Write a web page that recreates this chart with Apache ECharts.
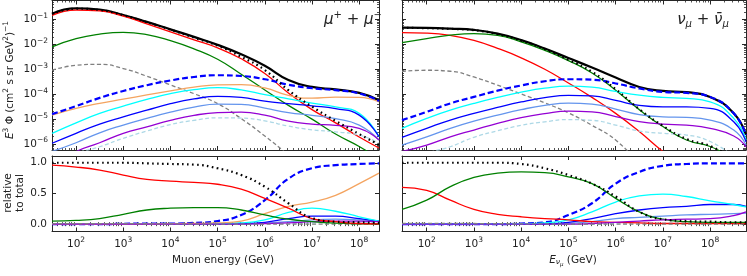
<!DOCTYPE html>
<html><head><meta charset="utf-8">
<script src="https://cdn.jsdelivr.net/npm/echarts@6/dist/echarts.min.js"></script>
<style>html,body{margin:0;padding:0;background:#fff}#c{width:747px;height:276px}</style>
</head><body><div id="c"></div>
<script>
// ---------------- data (fluxes given as log10 values) ----------------
const energyMu = [31, 1e2, 3.16e2, 1e3, 3.16e3, 1e4, 3.16e4, 1e5, 3.16e5, 1e6, 3.16e6, 1e7, 3.16e7, 1e8, 2.63e8];
const energyNu = [30, 1e2, 3.16e2, 1e3, 3.16e3, 1e4, 3.16e4, 1e5, 3.16e5, 1e6, 3.16e6, 1e7, 3.16e7, 1e8, 3.16e8, 5.75e8];

// muons, log10(E^3 Phi)
const muTotal  = [-0.77, -0.56, -0.61, -0.82, -1.1, -1.4, -1.7, -2.02, -2.4, -2.86, -3.43, -3.71, -3.81, -3.95, -4.24];
const muPion   = [-0.84, -0.63, -0.66, -0.87, -1.18, -1.5, -1.82, -2.14, -2.58, -3.17, -3.95, -4.62, -5.15, -5.72, -6.16];
const muKaon   = [-2.1, -1.77, -1.59, -1.52, -1.61, -1.85, -2.18, -2.6, -3.2, -3.83, -4.45, -5.0, -5.6, -6.1, -6.6];
const muOther  = [-3.04, -2.84, -2.8, -2.97, -3.28, -3.63, -3.98, -4.38, -4.98, -5.68, -6.45, -7.3, null, null, null];
const muPrompt = [-4.8, -4.48, -4.15, -3.87, -3.64, -3.45, -3.31, -3.24, -3.27, -3.4, -3.62, -3.76, -3.84, -3.97, -4.27];
const muUnflav = [-4.84, -4.57, -4.37, -4.2, -4.03, -3.87, -3.72, -3.63, -3.62, -3.75, -4.05, -4.16, -4.12, -4.13, -4.31];
const muCyan   = [-5.57, -5.15, -4.77, -4.48, -4.21, -3.98, -3.82, -3.74, -3.83, -4.02, -4.19, -4.36, -4.51, -4.77, -5.71];
const muBlue   = [-5.97, -5.57, -5.2, -4.91, -4.64, -4.38, -4.19, -4.09, -4.13, -4.28, -4.38, -4.47, -4.58, -4.84, -5.71];
const muCorn   = [-6.3, -5.95, -5.55, -5.24, -4.97, -4.72, -4.52, -4.4, -4.41, -4.56, -4.74, -4.85, -4.98, -5.24, -5.84];
const muPurple = [-6.8, -6.3, -5.95, -5.57, -5.31, -5.05, -4.85, -4.74, -4.72, -4.84, -5.08, -5.2, -5.25, -5.37, -5.84];
const muLight  = [-7.0, -6.4, -6.11, -5.77, -5.48, -5.22, -5.05, -4.95, -4.96, -5.07, -5.28, -5.43, -5.51, -5.64, -5.97];
const muConv   = [-0.78, -0.57, -0.62, -0.83, -1.11, -1.41, -1.73, -2.05, -2.5, -3.03, -3.84, -4.5, -5.07, -5.6, -6.03];

// neutrinos, log10(E^3 Phi)
const nuTotal  = [-1.33, -1.34, -1.37, -1.42, -1.57, -1.83, -2.17, -2.55, -2.93, -3.33, -3.71, -3.87, -3.92, -4.11, -4.77, -5.64];
const nuPion   = [-1.53, -1.55, -1.64, -1.84, -2.16, -2.54, -3.0, -3.55, -4.13, -4.77, -5.5, -6.3, -7.0, null, null, null];
const nuKaon   = [-1.93, -1.77, -1.63, -1.57, -1.64, -1.9, -2.24, -2.65, -3.15, -3.84, -4.62, -5.3, -5.84, -6.1, -6.6, null];
const nuOther  = [-3.08, -3.04, -3.08, -3.31, -3.64, -3.99, -4.35, -4.75, -5.25, -5.84, -6.8, null, null, null, null, null];
const nuPrompt = [-5.04, -4.71, -4.37, -4.11, -3.86, -3.65, -3.48, -3.4, -3.42, -3.57, -3.77, -3.91, -3.95, -4.11, -4.77, -5.64];
const nuCyan   = [-5.37, -4.97, -4.64, -4.37, -4.13, -3.92, -3.76, -3.68, -3.72, -3.89, -4.04, -4.13, -4.17, -4.31, -4.97, -5.84];
const nuBlue   = [-5.73, -5.37, -5.04, -4.77, -4.53, -4.31, -4.14, -4.05, -4.07, -4.25, -4.45, -4.51, -4.51, -4.57, -5.11, -5.91];
const nuCorn   = [-6.04, -5.71, -5.37, -5.08, -4.84, -4.62, -4.45, -4.36, -4.4, -4.6, -4.82, -4.91, -4.93, -5.04, -5.44, -6.04];
const nuPurple = [-6.3, -6.04, -5.71, -5.44, -5.17, -4.94, -4.78, -4.68, -4.71, -4.9, -5.1, -5.2, -5.24, -5.37, -5.68, -6.11];
const nuLight  = [-7.0, -6.4, -6.11, -5.73, -5.47, -5.25, -5.11, -5.02, -5.05, -5.24, -5.48, -5.57, -5.64, -5.9, -6.5, null];
const nuConv   = [-1.34, -1.35, -1.38, -1.43, -1.59, -1.85, -2.19, -2.62, -3.1, -3.8, -4.6, -5.27, -5.8, -6.08, -6.6, null];

// relative to total
const relMuPion   = [0.96, 0.93, 0.88, 0.80, 0.73, 0.70, 0.68, 0.65, 0.57, 0.42, 0.26, 0.09, 0.04, 0.01, 0.005];
const relMuKaon   = [0.05, 0.06, 0.09, 0.16, 0.23, 0.26, 0.27, 0.27, 0.23, 0.15, 0.08, 0.04, 0.015, 0.005, 0.003];
const relMuConv   = [1.0, 1.0, 1.0, 1.0, 0.99, 0.98, 0.97, 0.91, 0.80, 0.61, 0.34, 0.10, 0.04, 0.03, 0.02];
const relMuPrompt = [0.0, 0.0, 0.0, 0.005, 0.01, 0.01, 0.02, 0.05, 0.15, 0.39, 0.74, 0.91, 0.96, 0.98, 0.99];
const relMuUnflav = [0.0, 0.0, 0.0, 0.0, 0.0, 0.005, 0.01, 0.02, 0.05, 0.17, 0.29, 0.36, 0.47, 0.66, 0.83];
const relMuCyan   = [0, 0, 0, 0, 0, 0, 0.005, 0.01, 0.02, 0.07, 0.19, 0.26, 0.21, 0.12, 0.05];
const relMuBlue   = [0, 0, 0, 0, 0, 0, 0, 0.005, 0.01, 0.03, 0.09, 0.13, 0.13, 0.09, 0.05];
const relMuCorn   = [0, 0, 0, 0, 0, 0, 0, 0, 0.005, 0.015, 0.04, 0.07, 0.08, 0.07, 0.05];
const relMuPurple = [0, 0, 0, 0, 0, 0, 0, 0, 0, 0.01, 0.02, 0.04, 0.05, 0.05, 0.04];
const relMuLight  = [0, 0, 0, 0, 0, 0, 0, 0, 0, 0.005, 0.01, 0.02, 0.025, 0.025, 0.02];
const relMuOther  = [0.008, 0.008, 0.008, 0.008, 0.006, 0.004, 0.002, 0.001, 0, 0, 0, 0, 0, 0, 0];

const relNuPion   = [0.60, 0.55, 0.39, 0.24, 0.16, 0.12, 0.09, 0.07, 0.04, 0.03, 0.02, 0.01, 0.01, 0.01, 0.01, 0.01];
const relNuKaon   = [0.24, 0.39, 0.61, 0.76, 0.83, 0.85, 0.84, 0.77, 0.66, 0.42, 0.20, 0.08, 0.04, 0.03, 0.03, 0.03];
const relNuConv   = [1.0, 1.0, 1.0, 1.0, 1.0, 0.98, 0.91, 0.80, 0.66, 0.45, 0.20, 0.08, 0.05, 0.04, 0.03, 0.03];
const relNuPrompt = [0, 0, 0, 0, 0, 0.01, 0.03, 0.15, 0.34, 0.66, 0.85, 0.95, 0.98, 0.99, 0.99, 0.99];
const relNuCyan   = [0, 0, 0, 0, 0, 0.005, 0.02, 0.07, 0.20, 0.36, 0.46, 0.49, 0.45, 0.38, 0.32, 0.28];
const relNuBlue   = [0, 0, 0, 0, 0, 0, 0.005, 0.03, 0.09, 0.17, 0.23, 0.27, 0.29, 0.32, 0.32, 0.29];
const relNuCorn   = [0, 0, 0, 0, 0, 0, 0, 0.01, 0.04, 0.09, 0.11, 0.13, 0.15, 0.16, 0.17, 0.18];
const relNuPurple = [0, 0, 0, 0, 0, 0, 0, 0, 0.01, 0.03, 0.05, 0.07, 0.08, 0.09, 0.14, 0.20];
const relNuLight  = [0, 0, 0, 0, 0, 0, 0, 0, 0, 0.01, 0.02, 0.02, 0.02, 0.02, 0.02, 0.02];
const relNuOther  = [0.012, 0.012, 0.012, 0.01, 0.008, 0.005, 0.003, 0, 0, 0, 0, 0, 0, 0, 0, 0];

// ticks
const xDecades = [1e2, 1e3, 1e4, 1e5, 1e6, 1e7, 1e8];
const yDecades = [1e-6, 1e-5, 1e-4, 1e-3, 1e-2, 1e-1];
const relTicks = [0, 0.5, 1.0];

// ---------------- styling / layout ----------------
const FF = 'DejaVu Sans';
const AC = '#262626';
const xRangeMu = [30.9, 2.63e8];
const xRangeNu = [30, 5.75e8];
const yRangeFlux = [5.75e-7, 0.575];
const yRangeRel = [-0.12, 1.11];

function minorList(lo, hi) {
  const out = [];
  for (let k = -9; k <= 9; k++) for (let m = 2; m <= 9; m++) {
    const v = m * Math.pow(10, k);
    if (v > lo * 1.001 && v < hi * 0.999) out.push(v);
  }
  return out;
}
function logFmt(v) {
  const l = Math.log10(v), e = Math.round(l);
  if (Math.abs(l - e) > 1e-3) return '';
  return '{b|10}{s|' + (e < 0 ? '\u2212' : '') + Math.abs(e) + '}';
}
const richLog = {
  b: { fontSize: 10.5, fontFamily: FF, color: '#222' },
  s: { fontSize: 7.5, fontFamily: FF, color: '#222', padding: [0, 0, 7, 0] }
};

const grids = [
  { left: 52, top: 0.5, width: 327, height: 149.5 },
  { left: 402, top: 0.5, width: 344, height: 149.5 },
  { left: 52, top: 156, width: 327, height: 75.5 },
  { left: 402, top: 156, width: 344, height: 75.5 }
];

const xAxes = [], yAxes = [];
function addX(gi, range, showLabels) {
  const base = { type: 'log', logBase: 10, gridIndex: gi, min: range[0], max: range[1], splitLine: { show: false }, splitArea: { show: false } };
  const minor = minorList(range[0], range[1]);
  ['bottom', 'top'].forEach(pos => {
    xAxes.push(Object.assign({}, base, {
      position: pos,
      axisLine: { show: true, onZero: false, lineStyle: { color: AC, width: 1 } },
      axisTick: { show: true, inside: true, length: 4, customValues: xDecades, lineStyle: { color: AC, width: 1 } },
      axisLabel: { show: showLabels && pos === 'bottom', customValues: xDecades, formatter: logFmt, rich: richLog, margin: 5 }
    }));
    xAxes.push(Object.assign({}, base, {
      position: pos,
      axisLine: { show: false },
      axisTick: { show: true, inside: true, length: 2, customValues: minor, lineStyle: { color: AC, width: 0.8 } },
      axisLabel: { show: false }
    }));
  });
}
function addYLog(gi, showLabels) {
  const base = { type: 'log', logBase: 10, gridIndex: gi, min: yRangeFlux[0], max: yRangeFlux[1], splitLine: { show: false } };
  const minor = minorList(yRangeFlux[0], yRangeFlux[1]);
  ['left', 'right'].forEach(pos => {
    yAxes.push(Object.assign({}, base, {
      position: pos,
      axisLine: { show: true, onZero: false, lineStyle: { color: AC, width: 1 } },
      axisTick: { show: true, inside: true, length: 4, customValues: yDecades, lineStyle: { color: AC, width: 1 } },
      axisLabel: { show: showLabels && pos === 'left', customValues: yDecades, formatter: logFmt, rich: richLog, margin: 4 }
    }));
    yAxes.push(Object.assign({}, base, {
      position: pos,
      axisLine: { show: false },
      axisTick: { show: true, inside: true, length: 2, customValues: minor, lineStyle: { color: AC, width: 0.8 } },
      axisLabel: { show: false }
    }));
  });
}
function addYRel(gi, showLabels) {
  const base = { type: 'value', gridIndex: gi, min: yRangeRel[0], max: yRangeRel[1], splitLine: { show: false } };
  ['left', 'right'].forEach(pos => {
    yAxes.push(Object.assign({}, base, {
      position: pos,
      axisLine: { show: true, onZero: false, lineStyle: { color: AC, width: 1 } },
      axisTick: { show: true, inside: true, length: 4, customValues: relTicks, lineStyle: { color: AC, width: 1 } },
      axisLabel: { show: showLabels && pos === 'left', customValues: relTicks, formatter: v => v.toFixed(1), fontSize: 10.5, fontFamily: FF, color: '#222', margin: 5 }
    }));
    yAxes.push(Object.assign({}, base, { position: pos, axisLine: { show: false }, axisTick: { show: false }, axisLabel: { show: false } }));
  });
}
addX(0, xRangeMu, false); addYLog(0, true);
addX(1, xRangeNu, false); addYLog(1, false);
addX(2, xRangeMu, true);  addYRel(2, true);
addX(3, xRangeNu, true);  addYRel(3, false);

const ST = {
  total:  { color: '#000000', width: 2.2 },
  pion:   { color: '#ff0000', width: 1.3 },
  kaon:   { color: '#008000', width: 1.3 },
  other:  { color: '#808080', width: 1.3, type: [4, 2.5] },
  prompt: { color: '#0000ff', width: 2.2, type: [6, 3] },
  unflav: { color: '#f4a460', width: 1.3 },
  cyan:   { color: '#00ffff', width: 1.3 },
  blue:   { color: '#0000ff', width: 1.3 },
  corn:   { color: '#6495ed', width: 1.3 },
  purple: { color: '#9400d3', width: 1.3 },
  light:  { color: '#add8e6', width: 1.3, type: [4, 2.5] },
  conv:   { color: '#000000', width: 2.2, type: [1.6, 3.4] }
};
const series = [];
function line(gi, xs, ys, st, isLog, z) {
  const data = [];
  xs.forEach((x, i) => { if (ys[i] !== null && ys[i] !== undefined) data.push([x, isLog ? Math.pow(10, ys[i]) : ys[i]]); });
  series.push({
    type: 'line', xAxisIndex: gi * 4, yAxisIndex: gi * 4, data, symbol: 'none', showSymbol: false,
    smooth: 0.5, clip: true, silent: true, animation: false, z: z || 2,
    lineStyle: Object.assign({ cap: 'butt', join: 'round' }, st)
  });
}
// top-left muons
line(0, energyMu, muTotal, ST.total, true, 2);
line(0, energyMu, muPion, ST.pion, true, 3);
line(0, energyMu, muKaon, ST.kaon, true, 3);
line(0, energyMu, muOther, ST.other, true, 3);
line(0, energyMu, muUnflav, ST.unflav, true, 3);
line(0, energyMu, muCyan, ST.cyan, true, 3);
line(0, energyMu, muBlue, ST.blue, true, 3);
line(0, energyMu, muCorn, ST.corn, true, 3);
line(0, energyMu, muPurple, ST.purple, true, 3);
line(0, energyMu, muLight, ST.light, true, 3);
line(0, energyMu, muPrompt, ST.prompt, true, 4);
line(0, energyMu, muConv, ST.conv, true, 4);
// top-right neutrinos
line(1, energyNu, nuTotal, ST.total, true, 2);
line(1, energyNu, nuPion, ST.pion, true, 3);
line(1, energyNu, nuKaon, ST.kaon, true, 3);
line(1, energyNu, nuOther, ST.other, true, 3);
line(1, energyNu, nuCyan, ST.cyan, true, 3);
line(1, energyNu, nuBlue, ST.blue, true, 3);
line(1, energyNu, nuCorn, ST.corn, true, 3);
line(1, energyNu, nuPurple, ST.purple, true, 3);
line(1, energyNu, nuLight, ST.light, true, 3);
line(1, energyNu, nuPrompt, ST.prompt, true, 4);
line(1, energyNu, nuConv, ST.conv, true, 4);
// bottom-left
line(2, energyMu, relMuPrompt, ST.prompt, false, 2);
line(2, energyMu, relMuLight, ST.light, false, 3);
line(2, energyMu, relMuCorn, ST.corn, false, 3);
line(2, energyMu, relMuBlue, ST.blue, false, 3);
line(2, energyMu, relMuCyan, ST.cyan, false, 3);
line(2, energyMu, relMuUnflav, ST.unflav, false, 3);
line(2, energyMu, relMuPurple, ST.purple, false, 3);
line(2, energyMu, relMuOther, ST.other, false, 3);
line(2, energyMu, relMuKaon, ST.kaon, false, 3);
line(2, energyMu, relMuPion, ST.pion, false, 3);
line(2, energyMu, relMuConv, ST.conv, false, 4);
// bottom-right
line(3, energyNu, relNuPrompt, ST.prompt, false, 2);
line(3, energyNu, relNuLight, ST.light, false, 3);
line(3, energyNu, relNuCorn, ST.corn, false, 3);
line(3, energyNu, relNuBlue, ST.blue, false, 3);
line(3, energyNu, relNuCyan, ST.cyan, false, 3);
line(3, energyNu, relNuPion, ST.pion, false, 3);
line(3, energyNu, relNuKaon, ST.kaon, false, 3);
line(3, energyNu, relNuPurple, ST.purple, false, 3);
line(3, energyNu, relNuOther, ST.other, false, 3);
line(3, energyNu, relNuConv, ST.conv, false, 4);

const txt = (x, y, text, rich, extra) => Object.assign({
  type: 'text', x, y, silent: true, z: 10,
  style: Object.assign({ text, rich, fontFamily: FF, fontSize: 10.5, fill: '#222', align: 'center', verticalAlign: 'middle' }, (extra && extra.style) || {})
}, extra && extra.rotation !== undefined ? { rotation: extra.rotation } : {});

const supR = { fontFamily: FF, fontSize: 7.5, fill: '#222', color: '#222', padding: [0, 0, 7, 0] };
const graphics = [
  txt(10, 80, '{i|E}{s|3} Φ (cm{s|2} s sr GeV{s|2}){s|\u22121}', {
    i: { fontFamily: FF, fontSize: 10.5, fontStyle: 'italic', color: '#222' },
    s: supR
  }, { rotation: Math.PI / 2 }),
  txt(14, 193, 'relative\nto total', {}, { rotation: Math.PI / 2, style: { lineHeight: 12 } }),
  txt(223, 260, 'Muon energy (GeV)', {}),
  txt(573, 260, '{i|E}{sub|ν}{sub2|μ} (GeV)', {
    i: { fontFamily: FF, fontSize: 10.5, fontStyle: 'italic', color: '#222' },
    sub: { fontFamily: FF, fontSize: 7.5, fontStyle: 'italic', color: '#222', padding: [5, 0, 0, 0] },
    sub2: { fontFamily: FF, fontSize: 5.5, fontStyle: 'italic', color: '#222', padding: [9, 0, 0, 0] }
  }),
  txt(353, 20, '{m|μ}{s|+}{p| + }{m|μ}{s|\u2212}', {
    m: { fontFamily: FF, fontSize: 15, fontStyle: 'italic', color: '#111' },
    p: { fontFamily: FF, fontSize: 15, color: '#111' },
    s: { fontFamily: FF, fontSize: 10, color: '#111', padding: [0, 0, 9, 0] }
  }),
  txt(703, 20, '{m|ν}{sub|μ}{p| + }{m|ν̄}{sub|μ}', {
    m: { fontFamily: FF, fontSize: 15, fontStyle: 'italic', color: '#111' },
    p: { fontFamily: FF, fontSize: 15, color: '#111' },
    sub: { fontFamily: FF, fontSize: 10, fontStyle: 'italic', color: '#111', padding: [8, 0, 0, 0] }
  })
];

const chart = echarts.init(document.getElementById('c'), null, { renderer: 'canvas' });
chart.setOption({
  animation: false,
  backgroundColor: '#ffffff',
  grid: grids,
  xAxis: xAxes,
  yAxis: yAxes,
  series,
  graphic: graphics
});
</script></body></html>
